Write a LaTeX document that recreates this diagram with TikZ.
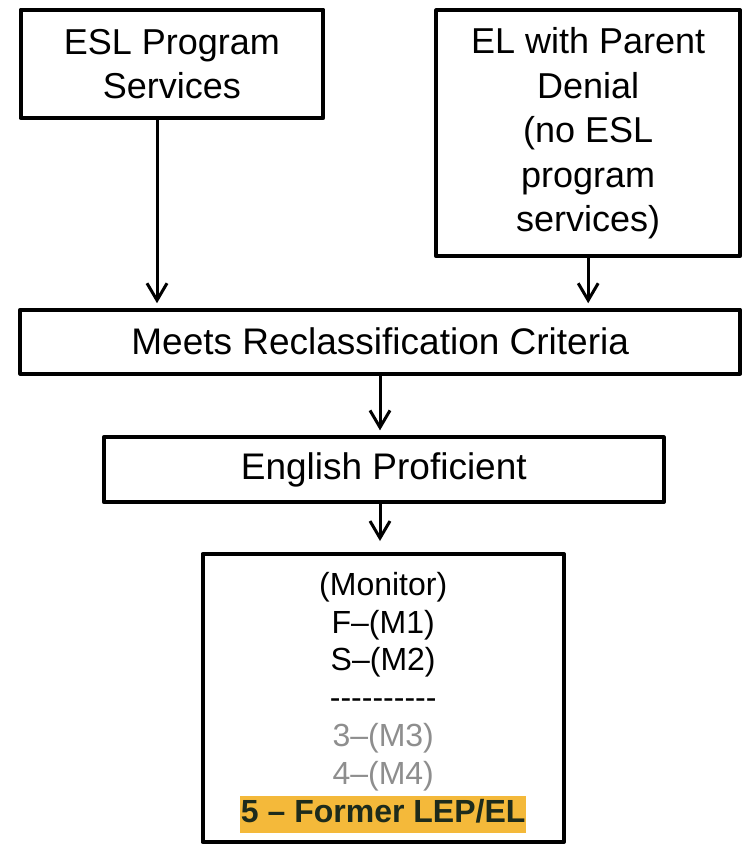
\documentclass[tikz,border=0pt]{standalone}
\usepackage{fontspec}
\setmainfont{Liberation Sans}
\usetikzlibrary{arrows.meta}
\definecolor{hl}{HTML}{F4B93A}
\definecolor{dimgray}{HTML}{8E8E8E}
\definecolor{darktxt}{HTML}{1D2B1C}
\begin{document}
\begin{tikzpicture}[x=1pt,y=-1pt,
  box/.style={draw=black, line width=4pt, line join=round, inner sep=0pt, align=center,
    font=\fontsize{36}{44.5}\selectfont},
  widebox/.style={box, font=\fontsize{37}{44.5}\selectfont},
  txt/.style={inner sep=0pt, align=center, font=\fontsize{32}{37.8}\selectfont},
  arr/.style={line width=3pt, -{Straight Barb[length=17pt,width=20pt,line width=3pt]}},
]
\useasboundingbox (0,0) rectangle (742,844);
\node[box, minimum width=302.8pt, minimum height=108.3pt] (esl) at (171.9,63.9) {ESL Program\\Services};
\node[box, minimum width=303.7pt, minimum height=246pt] (den) at (588.2,133.3) {EL with Parent\\Denial\\(no ESL\\program\\services)};
\node[widebox, minimum width=719.7pt, minimum height=64pt] (meet) at (380.2,341.7) {Meets Reclassification Criteria};
\node[widebox, minimum width=560pt, minimum height=64.7pt] (prof) at (383.8,469.7) {English Proficient};
\node[box, minimum width=361.3pt, minimum height=288pt] (mon) at (383.2,698) {};
\node[txt] (montext) at (383.2,702.5)
  {(Monitor)\\F–(M1)\\S–(M2)\\-{}-{}-{}-{}-{}-{}-{}-{}-{}-\\\textcolor{dimgray}{3–(M3)}\\\textcolor{dimgray}{4–(M4)}\\
   {\setlength{\fboxsep}{0pt}\colorbox{hl}{\rule[-11pt]{0pt}{37pt}\hspace{1pt}\textcolor{darktxt}{\textbf{5 – Former LEP/EL}}\hspace{1pt}}}};
\coordinate (c1) at (157,0);
\coordinate (c3) at (380,0);
\draw[arr, shorten >=4.5pt] (esl.south -| c1) -- (meet.north -| c1);
\draw[arr, shorten >=4.5pt] (den.south) -- (meet.north -| den.south);
\draw[arr, shorten >=5pt] (meet.south -| c3) -- (prof.north -| c3);
\draw[arr, shorten >=11pt] (prof.south -| c3) -- (mon.north -| c3);
\end{tikzpicture}
\end{document}
